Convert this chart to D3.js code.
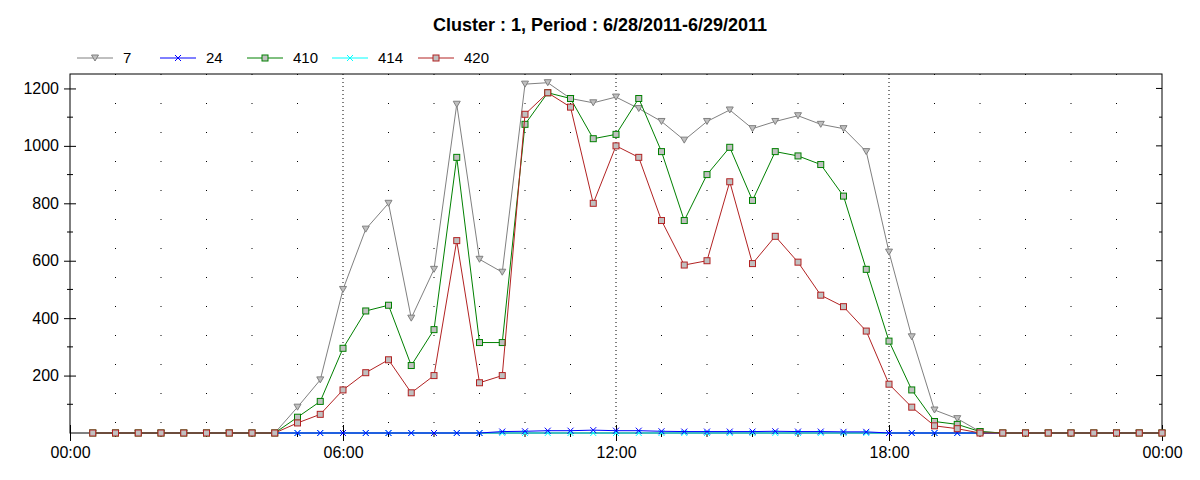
<!DOCTYPE html><html><head><script src="https://cdn.jsdelivr.net/npm/d3@7"></script>
<style>body{margin:0;background:#fff}text{font-family:Arial,"Liberation Sans",sans-serif}</style></head><body>
<svg id="c" width="1200" height="480"></svg>
<script>
const times = d3.range(1,49); // half-hour index
const s7   = [0,0,0,0,0,0,0,0,0,90,185,500,710,800,400,570,1145,605,560,1215,1220,1165,1150,1170,1130,1085,1020,1085,1125,1060,1085,1105,1075,1060,980,630,335,80,50,5,0,0,0,0,0,0,0,0];
const s24  = [0,0,0,0,0,0,0,0,0,0,0,0,0,0,0,0,0,0,5,6,8,8,10,8,8,6,5,5,5,5,6,5,5,4,4,0,0,0,0,0,0,0,0,0,0,0,0,0];
const s410 = [0,0,0,0,0,0,0,0,0,55,110,295,425,445,235,360,960,315,315,1075,1185,1165,1025,1040,1165,980,740,900,995,810,980,965,935,825,570,320,150,40,30,5,0,0,0,0,0,0,0,0];
const s414 = [0,0,0,0,0,0,0,0,0,0,0,0,0,0,0,0,0,0,0,0,0,0,0,0,0,0,0,0,0,0,0,0,0,0,0,0,0,0,0,0,0,0,0,0,0,0,0,0];
const s420 = [0,0,0,0,0,0,0,0,0,35,65,150,210,255,140,200,670,175,200,1110,1185,1135,800,1000,960,740,585,600,875,590,685,595,480,440,355,170,90,25,15,0,0,0,0,0,0,0,0,0];
const xLabels = ["00:00","06:00","12:00","18:00","00:00"];
const yTicks = [200,400,600,800,1000,1200];
const series = [
 {name:"7",vals:s7,color:"#808080",mk:"tri",fill:"#c0c0c0"},
 {name:"24",vals:s24,color:"#0000ff",mk:"x"},
 {name:"410",vals:s410,color:"#008000",mk:"sq",fill:"#c0c0c0"},
 {name:"414",vals:s414,color:"#00ffff",mk:"x"},
 {name:"420",vals:s420,color:"#b22222",mk:"sq",fill:"#c0c0c0"}];
const svg=d3.select("#c");
const L=70,R=1162,T=74,B=433;
const x=d3.scaleLinear().domain([0,48]).range([L,R]);
const y=d3.scaleLinear().domain([0,1212]).range([B,T+11]);
svg.append("text").attr("x",600).attr("y",31).attr("text-anchor","middle").attr("font-size",18).attr("font-weight","bold").text("Cluster : 1, Period : 6/28/2011-6/29/2011");
for(let h=1;h<24;h++){svg.append("line").attr("x1",x(h*2)).attr("x2",x(h*2)).attr("y1",T).attr("y2",B).attr("stroke","#000").attr("stroke-width",1).attr("stroke-dasharray",h%6==0?"1,3":"1,28");}
svg.append("rect").attr("x",L).attr("y",T).attr("width",R-L).attr("height",B-T).attr("fill","none").attr("stroke","#000");
const ya=svg.append("g").attr("transform",`translate(${L},0)`).call(d3.axisLeft(y).tickValues(yTicks).tickFormat(d3.format("d")).tickSize(6).tickSizeOuter(0));
ya.select(".domain").remove();ya.selectAll("text").attr("font-size",16).attr("fill","#000").attr("dx",-2);
ya.selectAll("line").attr("x1",-6).attr("x2",6);
const ym=d3.range(100,1250,100).filter(v=>v%200);
ym.forEach(v=>{svg.append("line").attr("x1",L-3).attr("x2",L+3).attr("y1",y(v)).attr("y2",y(v)).attr("stroke","#000");svg.append("line").attr("x1",R-3).attr("x2",R).attr("y1",y(v)).attr("y2",y(v)).attr("stroke","#000");});
yTicks.forEach(v=>svg.append("line").attr("x1",R-6).attr("x2",R).attr("y1",y(v)).attr("y2",y(v)).attr("stroke","#000"));
const xa=svg.append("g").attr("transform",`translate(0,${B})`).call(d3.axisBottom(x).tickValues([0,12,24,36,48]).tickFormat((d,i)=>xLabels[i]).tickSize(8).tickSizeOuter(0));
xa.select(".domain").remove();xa.selectAll("text").attr("font-size",16).attr("fill","#000").attr("dy",14);
xa.selectAll("line").attr("y1",-8).attr("y2",8);
for(let h=1;h<24;h++) if(h%6) svg.append("line").attr("x1",x(h*2)).attr("x2",x(h*2)).attr("y1",B).attr("y2",B+4).attr("stroke","#000");
function marker(g,s,cx,cy){
 if(s.mk=="sq") g.append("rect").attr("x",cx-3).attr("y",cy-3).attr("width",6).attr("height",6).attr("fill",s.fill).attr("stroke",s.color);
 else if(s.mk=="tri") g.append("path").attr("d",`M${cx-3.5},${cy-3}L${cx+3.5},${cy-3}L${cx},${cy+3}Z`).attr("fill",s.fill).attr("stroke",s.color);
 else g.append("path").attr("d",`M${cx-3},${cy-3}L${cx+3},${cy+3}M${cx+3},${cy-3}L${cx-3},${cy+3}`).attr("stroke",s.color);
}
const line=d3.line().x((d,i)=>x(times[i])).y(d=>y(d));
const order=[3,1,0,2,4];
order.forEach(k=>{const s=series[k];const g=svg.append("g");
 g.append("path").attr("d",line(s.vals)).attr("fill","none").attr("stroke",s.color).attr("stroke-width",1);
 s.vals.forEach((v,i)=>marker(g,s,x(times[i]),y(v)));});
const lx=[77,160,247,332,418];
series.forEach((s,i)=>{const g=svg.append("g");
 g.append("line").attr("x1",lx[i]).attr("x2",lx[i]+36).attr("y1",58).attr("y2",58).attr("stroke",s.color);
 marker(g,s,lx[i]+18,58);
 g.append("text").attr("x",lx[i]+46).attr("y",63).attr("font-size",15).text(s.name);});
</script></body></html>
